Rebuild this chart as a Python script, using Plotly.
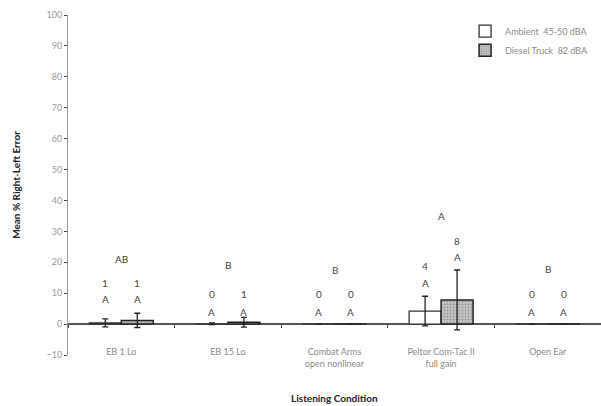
import plotly.graph_objects as go

categories = ["EB 1 Lo", "EB 15 Lo", "Combat Arms<br>open nonlinear", "Peltor Com-Tac II<br>full gain", "Open Ear"]
ambient_mean = [0.4, 0.1, 0.0, 4.2, 0.0]
ambient_err = [1.3, 0.3, 0.0, 4.8, 0.0]
diesel_mean = [1.2, 0.6, 0.0, 7.8, 0.0]
diesel_err = [2.3, 1.6, 0.0, 9.7, 0.0]

# annotation texts
amb_value_lbl = ["1", "0", "0", "4", "0"]
amb_group_lbl = ["A", "A", "A", "A", "A"]
die_value_lbl = ["1", "1", "0", "8", "0"]
die_group_lbl = ["A", "A", "A", "A", "A"]
overall_lbl = ["AB", "B", "B", "A", "B"]

# annotation heights (layout)
amb_group_y = [8.2, 3.8, 3.8, 13.4, 3.8]
amb_value_y = [13.4, 9.6, 9.6, 18.8, 9.6]
die_group_y = [8.2, 3.8, 3.8, 21.6, 3.8]
die_value_y = [13.4, 9.6, 9.6, 26.8, 9.6]
overall_y = [21.2, 19.2, 17.4, 35.0, 17.8]

FONT = "Lato, 'Open Sans', sans-serif"
GRAY = "#8a8a8a"

fig = go.Figure()
fig.add_trace(go.Bar(
    x=categories, y=ambient_mean, name="Ambient  45-50 dBA",
    marker=dict(color="white", line=dict(color="#333333", width=1.3)),
    error_y=dict(type="data", array=ambient_err, color="#222222", thickness=1.3, width=3),
))
fig.add_trace(go.Bar(
    x=categories, y=diesel_mean, name="Diesel Truck  82 dBA",
    marker=dict(color="#b5b5b5", line=dict(color="#222222", width=1.5),
                pattern=dict(shape=".", fgcolor="#6a6a6a", bgcolor="#c4c4c4", size=3, solidity=0.3)),
    error_y=dict(type="data", array=diesel_err, color="#222222", thickness=1.3, width=3),
))
# invisible trace for zero-level category axis
fig.add_trace(go.Scatter(x=categories, y=[0] * 5, xaxis="x2", mode="markers",
                         marker=dict(opacity=0), showlegend=False, hoverinfo="skip"))

ann = []
for i, c in enumerate(categories):
    for txt, yy, xs in [
        (amb_group_lbl[i], amb_group_y[i], -16), (amb_value_lbl[i], amb_value_y[i], -16),
        (die_group_lbl[i], die_group_y[i], 16), (die_value_lbl[i], die_value_y[i], 16),
        (overall_lbl[i], overall_y[i], 0),
    ]:
        ann.append(dict(x=c, y=yy, xref="x", yref="y", text=txt, showarrow=False, xshift=xs,
                        font=dict(family=FONT, size=10, color="#444444")))

fig.update_layout(
    width=601, height=406,
    margin=dict(l=68, r=0, t=15, b=51, autoexpand=False),
    paper_bgcolor="white", plot_bgcolor="white",
    barmode="group", bargap=0.4, bargroupgap=0,
    font=dict(family=FONT, size=9, color=GRAY),
    showlegend=True,
    legend=dict(x=0.745, y=0.995, xanchor="left", yanchor="top", bgcolor="rgba(0,0,0,0)",
                font=dict(size=9, color=GRAY), tracegroupgap=2, itemwidth=30),
    annotations=ann + [
        dict(text="<b>Listening Condition</b>", x=0.5, y=-0.125, xref="paper", yref="paper",
             showarrow=False, xanchor="center", yanchor="middle",
             font=dict(family=FONT, size=10, color="#222222")),
    ],
    xaxis=dict(type="category", showline=False, ticks="", showgrid=False,
               anchor="free", position=0.03, automargin=False,
               tickfont=dict(size=9, color=GRAY), tickangle=0),
    xaxis2=dict(type="category", overlaying="x", anchor="free", position=10 / 110,
                side="bottom", matches="x", showline=False, showticklabels=False, automargin=False,
                ticks="outside", tickson="boundaries", ticklen=3, tickcolor="#444444", showgrid=False),
    yaxis=dict(range=[-10, 100], dtick=10, showgrid=False, showline=True, linecolor="#9a9a9a",
               linewidth=1, ticks="outside", ticklen=3, tickcolor="#444444", automargin=False,
               zeroline=True, zerolinecolor="#555555", zerolinewidth=1.5,
               tickfont=dict(size=9, color="#9a9a9a"),
               title=dict(text="<b>Mean % Right-Left Error</b>", standoff=24,
                          font=dict(family=FONT, size=10, color="#222222"))),
)

fig.write_html("out.html", config={"displayModeBar": False},
               post_script="document.body.style.margin='0';document.body.style.overflow='hidden';")
